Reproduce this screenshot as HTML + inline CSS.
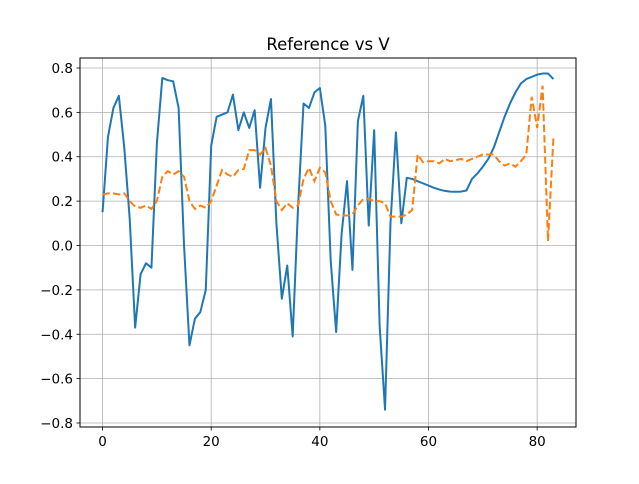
<!DOCTYPE html>
<html><head><meta charset="utf-8"><style>
body{margin:0;background:#fff;}
svg text{font-family:"DejaVu Sans","Liberation Sans",sans-serif;}
</style></head><body>
<svg id="chart" width="639" height="479" viewBox="0 0 639 479" xmlns="http://www.w3.org/2000/svg">
<rect width="639" height="479" fill="#fff"/>
<text x="328" y="50" font-size="16.5" text-anchor="middle">Reference vs V</text>
<g id="grid"></g>
<g id="series"></g>
<rect x="80" y="58" width="496" height="369" fill="none" stroke="#000" stroke-width="1"/>
<g id="ticks"></g>
</svg>
<script>
const xTicks=[0,20,40,60,80];
const yTicks=[-0.8,-0.6,-0.4,-0.2,0.0,0.2,0.4,0.6,0.8];
const reference=[0.15,0.49,0.62,0.675,0.44,0.12,-0.37,-0.13,-0.08,-0.1,0.46,0.755,0.745,0.74,0.62,0.0,-0.45,-0.33,-0.3,-0.2,0.45,0.58,0.59,0.6,0.68,0.52,0.6,0.53,0.61,0.26,0.53,0.66,0.1,-0.24,-0.09,-0.41,0.18,0.64,0.62,0.69,0.71,0.54,-0.07,-0.39,0.05,0.29,-0.11,0.56,0.675,0.09,0.52,-0.36,-0.74,0.1,0.51,0.1,0.305,0.3,0.29,0.28,0.27,0.26,0.252,0.246,0.243,0.242,0.243,0.248,0.3,0.325,0.355,0.39,0.44,0.51,0.58,0.64,0.69,0.73,0.75,0.76,0.77,0.775,0.775,0.75];
const vSeries=[0.23,0.235,0.235,0.23,0.235,0.2,0.175,0.17,0.18,0.165,0.2,0.31,0.335,0.32,0.335,0.31,0.2,0.165,0.18,0.17,0.2,0.27,0.34,0.32,0.31,0.34,0.345,0.43,0.43,0.41,0.44,0.36,0.2,0.16,0.19,0.17,0.18,0.3,0.35,0.29,0.35,0.33,0.2,0.14,0.135,0.135,0.14,0.18,0.21,0.21,0.2,0.2,0.19,0.13,0.13,0.13,0.14,0.16,0.41,0.375,0.38,0.38,0.37,0.39,0.38,0.385,0.39,0.38,0.39,0.4,0.41,0.41,0.41,0.38,0.36,0.37,0.355,0.38,0.41,0.67,0.53,0.72,0.02,0.49];
const X0=80,X1=576,Y0=58,Y1=427;
const xMin=-4.15,xMax=87.15;
const yMax=0.8+10/221.9,yMin=-0.8-4/221.9;
function sx(v){return X0+(v-xMin)/(xMax-xMin)*(X1-X0);}
function sy(v){return Y0+(yMax-v)/(yMax-yMin)*(Y1-Y0);}
const NS="http://www.w3.org/2000/svg";
const grid=document.getElementById('grid'),ticks=document.getElementById('ticks'),series=document.getElementById('series');
function mk(tag,attrs,parent){const e=document.createElementNS(NS,tag);for(const k in attrs)e.setAttribute(k,attrs[k]);parent.appendChild(e);return e;}
xTicks.forEach(t=>{
  const x=sx(t);
  const g=mk('line',{x1:x,x2:x,y1:Y0,y2:Y1,stroke:'#b0b0b0','stroke-width':0.8},grid);
  
  
  const tk=mk('line',{x1:x,x2:x,y1:Y1,y2:Y1+3.5,stroke:'#000','stroke-width':0.8},ticks);
  
  
  const tx=mk('text',{x:x,y:Y1+19,'font-size':13.5,'text-anchor':'middle'},ticks);
  tx.textContent=String(t);
  
  
});
yTicks.forEach(t=>{
  const y=sy(t);
  const g=mk('line',{x1:X0,x2:X1,y1:y,y2:y,stroke:'#b0b0b0','stroke-width':0.8},grid);
  
  
  const tk=mk('line',{x1:X0-3.5,x2:X0,y1:y,y2:y,stroke:'#000','stroke-width':0.8},ticks);
  
  
  const tx=mk('text',{x:X0-7,y:y+5,'font-size':13.5,'text-anchor':'end'},ticks);
  tx.textContent=(t<0?'\u2212':'')+Math.abs(t).toFixed(1);
  
  
});
function pts(arr){return arr.map((v,i)=>sx(i).toFixed(2)+','+sy(v).toFixed(2)).join(' ');}
const l1=mk('polyline',{points:pts(reference),fill:'none',stroke:'#1f77b4','stroke-width':2,'stroke-linejoin':'round'},series);


const l2=mk('polyline',{points:pts(vSeries),fill:'none',stroke:'#ff7f0e','stroke-width':2,'stroke-dasharray':'7.4,3.2'},series);


</script>
</body></html>
